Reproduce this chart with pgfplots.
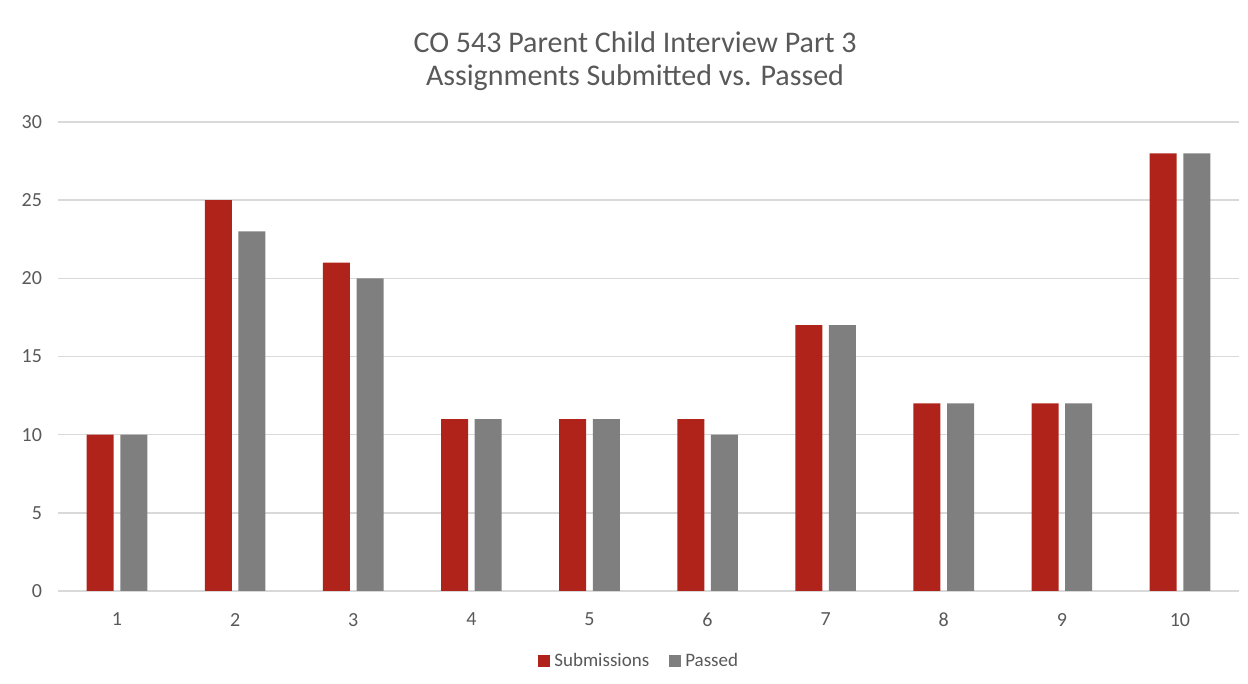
\documentclass[border=0pt]{standalone}
\usepackage{pgfplots}
\pgfplotsset{compat=1.18}
\usepackage{fontspec}
\setmainfont{Carlito}
\definecolor{subred}{HTML}{B0231A}
\definecolor{passgrey}{HTML}{7F7F7F}
\definecolor{gridgrey}{HTML}{D9D9D9}
\definecolor{txtgrey}{HTML}{595959}
\begin{document}
\begin{tikzpicture}
\path[use as bounding box] (0,0) rectangle (624pt,342pt);
\begin{axis}[
  at={(29pt,46.5pt)}, anchor=south west,
  scale only axis, width=590.5pt, height=234.5pt,
  ybar=3.3pt, bar width=13.5pt,
  xmin=0.5, xmax=10.5, ymin=0, ymax=30,
  xtick={1,...,10}, ytick={0,5,...,30},
  axis line style={draw=none},
  major tick length=0pt,
  ymajorgrids, grid style={gridgrey, line width=0.8pt},
  tick label style={font=\fontsize{10}{11}\selectfont, text=txtgrey},
  /pgf/number format/assume math mode=true,
  xticklabel style={yshift=-7.5pt},
  yticklabel style={xshift=-4.5pt},
  title={CO 543 Parent Child Interview Part 3\\Assignments Submitted vs. Passed},
  title style={font=\fontsize{15}{16.5}\selectfont, text=txtgrey, align=center, at={(axis description cs:0.4886,1)}, anchor=south, yshift=6pt},
  legend style={at={(axis description cs:0.493,-0.15)}, anchor=center, draw=none, font=\fontsize{9.5}{10}\selectfont, text=txtgrey, legend columns=2, /tikz/every even column/.append style={column sep=8pt}},
  legend image code/.code={\fill[#1] (0pt,-3pt) rectangle (6pt,3pt);},
]
\addplot[fill=subred, draw=none] coordinates {(1,10) (2,25) (3,21) (4,11) (5,11) (6,11) (7,17) (8,12) (9,12) (10,28)};
\addplot[fill=passgrey, draw=none] coordinates {(1,10) (2,23) (3,20) (4,11) (5,11) (6,10) (7,17) (8,12) (9,12) (10,28)};
\legend{Submissions, Passed}
\end{axis}
\end{tikzpicture}
\end{document}
